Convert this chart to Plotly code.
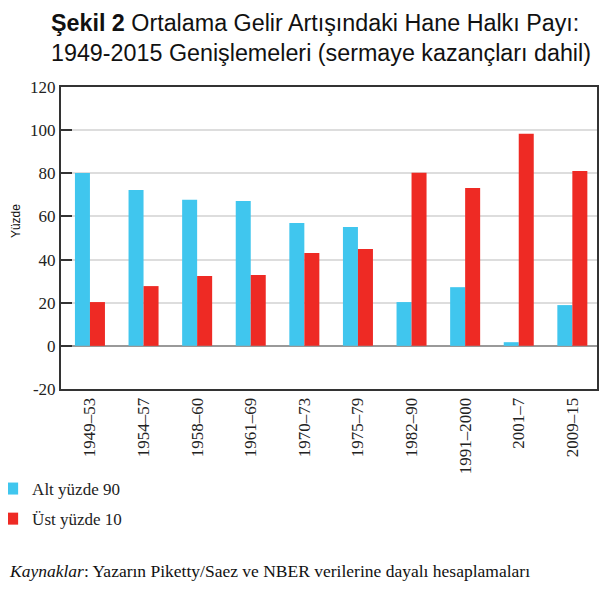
import plotly.graph_objects as go

categories = ["1949–53", "1954–57", "1958–60", "1961–69", "1970–73",
              "1975–79", "1982–90", "1991–2000", "2001–7", "2009–15"]
bottom90 = [80.1, 72.3, 67.7, 67.2, 57.0, 55.1, 20.3, 27.2, 1.7, 18.9]
top10 = [20.3, 27.7, 32.4, 32.8, 43.0, 44.9, 80.2, 73.2, 98.3, 81.1]
series_names = ["Alt yüzde 90", "Üst yüzde 10"]
y_ticks = [-20, 0, 20, 40, 60, 80, 100, 120]
y_tick_labels = ["-20", "0", "20", "40", "60", "80", "100", "120"]

BLUE = "#40C6EE"
RED = "#EE2A24"
SERIF = "Liberation Serif"
SANS = "Liberation Sans"

fig = go.Figure()
fig.add_trace(go.Bar(x=categories, y=bottom90, name=series_names[0], legendgroup="a",
                     marker=dict(color=BLUE, line=dict(width=0))))
fig.add_trace(go.Bar(x=categories, y=top10, name=series_names[1], legendgroup="b",
                     marker=dict(color=RED, line=dict(width=0))))

fig.update_layout(
    width=609, height=590,
    paper_bgcolor="white", plot_bgcolor="white",
    margin=dict(l=53, r=20, t=79, b=209, autoexpand=False),
    barmode="group", bargap=0.44, bargroupgap=0,
    showlegend=True,
    legend=dict(xref="paper", yref="paper", x=-0.1285, xanchor="left",
                y=-0.2715, yanchor="top", bgcolor="rgba(0,0,0,0)",
                font=dict(family=SERIF, size=17, color="#222"),
                itemsizing="constant", tracegroupgap=5),
    annotations=[
        dict(text="<b>Şekil 2</b> Ortalama Gelir Artışındaki Hane Halkı Payı:<br>1949-2015 Genişlemeleri (sermaye kazançları dahil)",
             xref="paper", yref="paper", x=0.486, y=1.0, xanchor="center", yanchor="bottom",
             yshift=19, showarrow=False, align="left",
             font=dict(family=SANS, size=23.3, color="#111")),
        dict(text="Yüzde", xref="paper", yref="paper", x=-0.084, y=0.556,
             xanchor="center", yanchor="middle",
             textangle=-90, showarrow=False, font=dict(family=SANS, size=12, color="#111")),
        dict(text="<i>Kaynaklar</i>: Yazarın Piketty/Saez ve NBER verilerine dayalı hesaplamaları",
             xref="paper", yref="paper", x=-0.1, y=-0.603, xanchor="left", yanchor="middle",
             showarrow=False, font=dict(family=SERIF, size=17.5, color="#111")),
    ],
)

fig.update_xaxes(
    type="category", tickangle=-90, showgrid=False, automargin=False,
    range=[-0.54, 9.46],
    showline=True, linecolor="#333", linewidth=2, mirror=True,
    ticks="", tickfont=dict(family=SERIF, size=17, color="#222"),
)
fig.update_yaxes(
    range=[-20, 120], tickvals=y_ticks, ticktext=y_tick_labels, automargin=False,
    showgrid=True, gridcolor="#DDDDDD", gridwidth=1.5,
    zeroline=True, zerolinecolor="#999999", zerolinewidth=2,
    showline=True, linecolor="#333", linewidth=2, mirror=True,
    ticks="inside", ticklen=11, tickcolor="#333", tickwidth=1.5,
    tickfont=dict(family=SERIF, size=17, color="#222"),
)

fig.write_html("out.html")
